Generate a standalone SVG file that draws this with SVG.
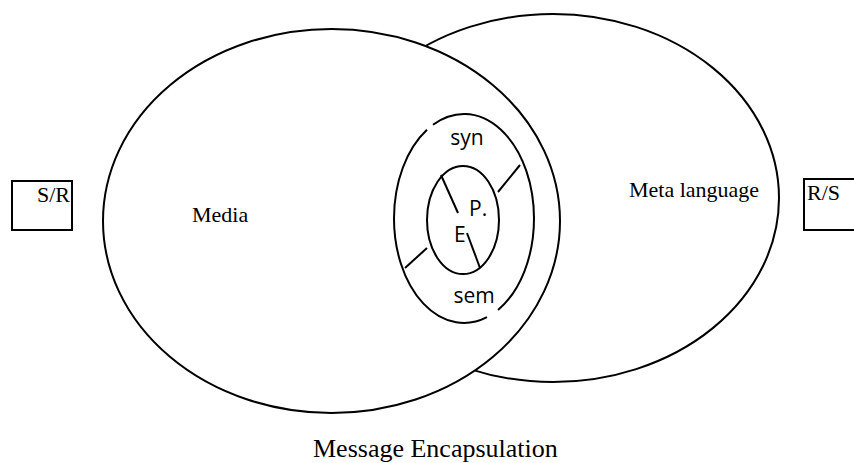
<svg xmlns="http://www.w3.org/2000/svg" width="854" height="463" viewBox="0 0 854 463">
<style>
.ln{fill:none;stroke:#000;stroke-width:2}
.el{fill:#fff;stroke:#000;stroke-width:2}
.bx{fill:#fff;stroke:#000;stroke-width:2}
.serif{font-family:"Liberation Serif","Times New Roman",serif;fill:#000}
.sans{font-family:"Open Sans","Noto Sans",sans-serif;fill:#000}
</style>
<rect width="854" height="463" fill="#fff"/>
<g id="meta-language">
<ellipse class="el" cx="553" cy="198" rx="226" ry="184"/>
<text class="serif" x="629" y="197" font-size="22">Meta language</text>
</g>
<g id="media">
<ellipse class="el" cx="331.5" cy="221" rx="228.5" ry="192"/>
<text class="serif" x="192" y="222" font-size="22">Media</text>
</g>
<g id="syn-sem">
<path class="ln" d="M433 124.8A70 104.5 0 0 1 534 218.5A70 104.5 0 0 1 498 309.9"/>
<path class="ln" d="M487 317.2A70 104.5 0 0 1 394 218.5A70 104.5 0 0 1 427 129.8"/>
<text class="sans" x="467" y="145" font-size="21" text-anchor="middle">syn</text>
<text class="sans" x="474" y="303" font-size="21" text-anchor="middle">sem</text>
</g>
<g id="pe">
<ellipse class="ln" cx="463" cy="220" rx="36" ry="54"/>
<text class="sans" x="469" y="216" font-size="21">P.</text>
<text class="sans" x="454" y="242" font-size="21">E</text>
</g>
<g id="connectors">
<line class="ln" x1="520" y1="165" x2="498" y2="192"/>
<line class="ln" x1="405" y1="268" x2="427" y2="248"/>
<line class="ln" x1="441" y1="175" x2="458" y2="213"/>
<line class="ln" x1="467" y1="233" x2="480" y2="268"/>
</g>
<g id="sr">
<rect class="bx" x="12" y="181" width="60" height="49"/>
<text class="serif" x="70" y="202" font-size="22" text-anchor="end">S/R</text>
</g>
<g id="rs">
<rect class="bx" x="804" y="179" width="70" height="51"/>
<text class="serif" x="807" y="200" font-size="22">R/S</text>
</g>
<text class="serif" x="313" y="457" font-size="26">Message Encapsulation</text>
</svg>
